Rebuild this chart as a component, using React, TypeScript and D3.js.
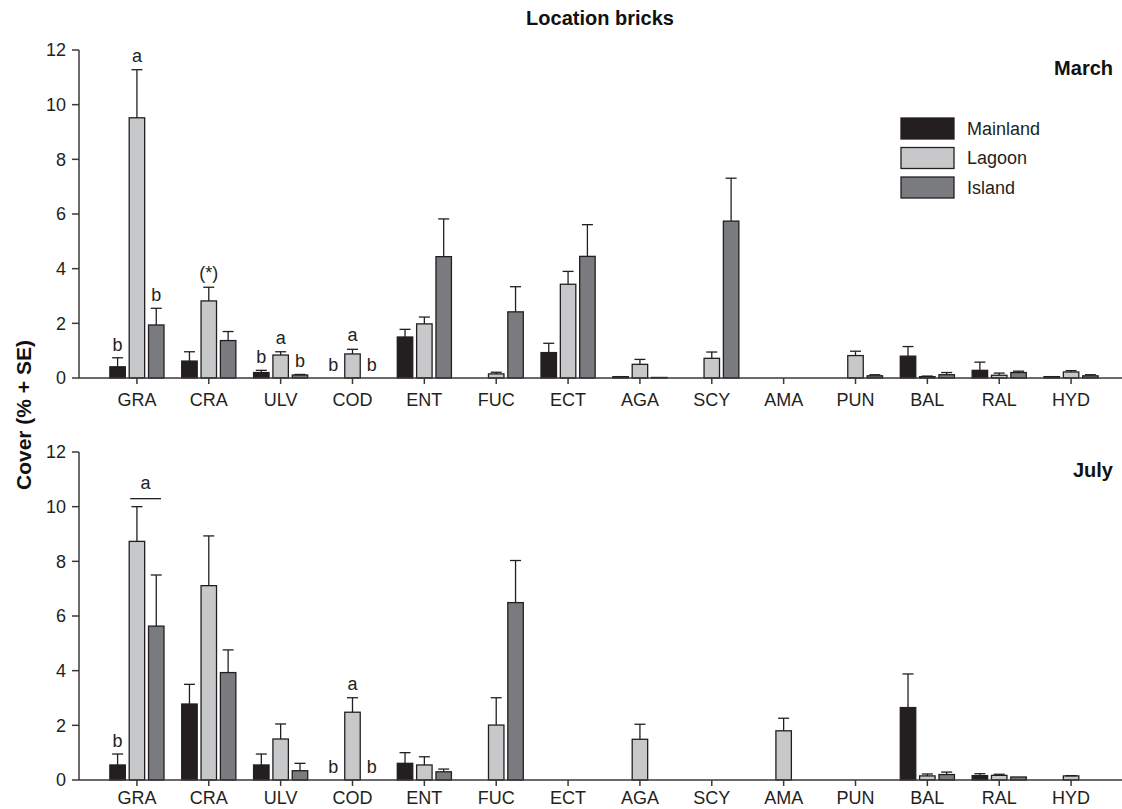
import { scaleBand, scaleLinear } from "d3";

// categories (algal groups) and the three locations
const categories = ["GRA", "CRA", "ULV", "COD", "ENT", "FUC", "ECT", "AGA", "SCY", "AMA", "PUN", "BAL", "RAL", "HYD"];
const locations = ["Mainland", "Lagoon", "Island"];
const yTicks = [0, 2, 4, 6, 8, 10, 12];

// March: mean cover and SE per location
const marchMainland = [0.41, 0.62, 0.2, 0, 1.5, 0, 0.93, 0.05, 0, 0, 0, 0.8, 0.28, 0.05];
const marchMainlandSE = [0.33, 0.34, 0.08, 0, 0.28, 0, 0.34, 0, 0, 0, 0, 0.35, 0.3, 0];
const marchLagoon = [9.52, 2.82, 0.84, 0.88, 1.98, 0.15, 3.43, 0.5, 0.72, 0, 0.82, 0.05, 0.1, 0.22];
const marchLagoonSE = [1.76, 0.5, 0.12, 0.17, 0.25, 0.06, 0.47, 0.18, 0.23, 0, 0.16, 0.02, 0.08, 0.05];
const marchIsland = [1.94, 1.37, 0.11, 0, 4.44, 2.42, 4.45, 0.02, 5.74, 0, 0.08, 0.12, 0.2, 0.08];
const marchIslandSE = [0.61, 0.33, 0.02, 0, 1.38, 0.92, 1.16, 0, 1.57, 0, 0.04, 0.08, 0.05, 0.04];

// July
const julyMainland = [0.55, 2.78, 0.55, 0, 0.61, 0, 0, 0, 0, 0, 0, 2.65, 0.16, 0];
const julyMainlandSE = [0.4, 0.72, 0.4, 0, 0.39, 0, 0, 0, 0, 0, 0, 1.23, 0.07, 0];
const julyLagoon = [8.73, 7.11, 1.5, 2.48, 0.55, 2.01, 0, 1.49, 0, 1.8, 0, 0.15, 0.17, 0.15];
const julyLagoonSE = [1.27, 1.82, 0.55, 0.53, 0.3, 1.0, 0, 0.55, 0, 0.46, 0, 0.07, 0.04, 0.01];
const julyIsland = [5.63, 3.93, 0.34, 0, 0.3, 6.49, 0, 0, 0, 0, 0, 0.2, 0.11, 0];
const julyIslandSE = [1.87, 0.83, 0.27, 0, 0.1, 1.54, 0, 0, 0, 0, 0, 0.09, 0, 0];

// significance letters: [category, location index, text]
const marchLetters: [string, number, string][] = [
  ["GRA", 0, "b"], ["GRA", 1, "a"], ["GRA", 2, "b"], ["CRA", 1, "(*)"],
  ["ULV", 0, "b"], ["ULV", 1, "a"], ["ULV", 2, "b"],
  ["COD", 0, "b"], ["COD", 1, "a"], ["COD", 2, "b"],
];
const julyLetters: [string, number, string][] = [
  ["GRA", 0, "b"], ["COD", 0, "b"], ["COD", 1, "a"], ["COD", 2, "b"],
];
// a letter shared by two bars, drawn over a line
const julyBrackets: [string, number, number, string][] = [["GRA", 1, 2, "a"]];

const colors = ["#231f20", "#c7c8ca", "#7a7b7f"];
const font = "'Liberation Sans', Arial, sans-serif";

const W = 1122;
const H = 809;
const axisX = 79;

const x = scaleBand().domain(categories).range([101, 1107]);
const sub = scaleBand().domain(locations).range([-29, 29]).paddingInner(0.2).paddingOuter(0.1);

const panels = [
  { name: "March", top: 50, bottom: 378, labelGap: 28, means: [marchMainland, marchLagoon, marchIsland], ses: [marchMainlandSE, marchLagoonSE, marchIslandSE], letters: marchLetters, brackets: [] as [string, number, number, string][] },
  { name: "July", top: 452, bottom: 780, labelGap: 24, means: [julyMainland, julyLagoon, julyIsland], ses: [julyMainlandSE, julyLagoonSE, julyIslandSE], letters: julyLetters, brackets: julyBrackets },
];

function Panel({ p }: { p: (typeof panels)[number] }) {
  const y = scaleLinear().domain([0, 12]).range([p.bottom, p.top]);
  const cx = (c: string) => (x(c) as number) + x.bandwidth() / 2;
  const bx = (c: string, s: number) => cx(c) + (sub(locations[s]) as number);
  const bw = sub.bandwidth();
  const capTop = (c: string, s: number) => {
    const i = categories.indexOf(c);
    return y(p.means[s][i] + p.ses[s][i]);
  };
  return (
    <g>
      {/* bars */}
      {p.means.map((vals, s) =>
        vals.map((v, i) =>
          v > 0 ? (
            <rect key={`b${s}-${i}`} x={bx(categories[i], s)} y={y(v)} width={bw} height={y(0) - y(v)}
              fill={colors[s]} stroke="#231f20" strokeWidth={1.3} />
          ) : null
        )
      )}
      {/* error bars */}
      {p.ses.map((vals, s) =>
        vals.map((se, i) => {
          if (!(se > 0) || !(p.means[s][i] > 0)) return null;
          const c = bx(categories[i], s) + bw / 2;
          const yt = y(p.means[s][i] + se);
          return (
            <g key={`e${s}-${i}`} stroke="#231f20" strokeWidth={1.3}>
              <line x1={c} x2={c} y1={y(p.means[s][i])} y2={yt} />
              <line x1={c - 5.5} x2={c + 5.5} y1={yt} y2={yt} />
            </g>
          );
        })
      )}
      {/* axes */}
      <line x1={axisX} x2={W} y1={y(0)} y2={y(0)} stroke="#3a3a3a" strokeWidth={1.5} />
      <line x1={axisX} x2={axisX} y1={y(12)} y2={y(0)} stroke="#3a3a3a" strokeWidth={1.5} />
      {yTicks.map((t) => (
        <g key={t}>
          <line x1={axisX - 7} x2={axisX} y1={y(t)} y2={y(t)} stroke="#3a3a3a" strokeWidth={1.5} />
          <text x={axisX - 13} y={y(t)} dy="0.36em" textAnchor="end" fontSize={18} fontFamily={font} fill="#231f20">{t}</text>
        </g>
      ))}
      {categories.map((c) => (
        <g key={c}>
          <line x1={cx(c)} x2={cx(c)} y1={y(0)} y2={y(0) + 6} stroke="#3a3a3a" strokeWidth={1.5} />
          <text x={cx(c)} y={y(0) + p.labelGap} textAnchor="middle" fontSize={18} fontFamily={font} fill="#231f20">{c}</text>
        </g>
      ))}
      {/* letters */}
      {p.letters.map(([c, s, t]) => (
        <text key={`l${c}${s}`} x={bx(c, s) + bw / 2} y={capTop(c, s) - (t === "b" ? 7 : 8)}
          textAnchor="middle" fontSize={18} fontFamily={font} fill="#231f20">{t}</text>
      ))}
      {p.brackets.map(([c, s1, s2, t]) => {
        const x1 = bx(c, s1) + 1;
        const x2 = bx(c, s2) + bw - 3;
        const yl = Math.min(capTop(c, s1), capTop(c, s2)) - 8;
        return (
          <g key={`k${c}`}>
            <line x1={x1} x2={x2} y1={yl} y2={yl} stroke="#231f20" strokeWidth={1.3} />
            <text x={(x1 + x2) / 2} y={yl - 10} textAnchor="middle" fontSize={18} fontFamily={font} fill="#231f20">{t}</text>
          </g>
        );
      })}
      <text x={1113} y={p.top + 25} textAnchor="end" fontSize={20} fontWeight="bold" fontFamily={font} fill="#111">{p.name}</text>
    </g>
  );
}

export default function App() {
  return (
    <div style={{ position: "absolute", left: 0, top: 0 }}>
      <svg width={W} height={H} style={{ display: "block", background: "#fff" }}>
        <text x={600} y={25} textAnchor="middle" fontSize={20} fontWeight="bold" fontFamily={font} fill="#111">Location bricks</text>
        <text transform="translate(31,415) rotate(-90)" textAnchor="middle" fontSize={21} fontWeight="bold" fontFamily={font} fill="#111">Cover (% + SE)</text>
        {panels.map((p) => (
          <Panel key={p.name} p={p} />
        ))}
        {/* legend */}
        {locations.map((l, i) => (
          <g key={l} transform={`translate(901,${118 + i * 29.5})`}>
            <rect width={53} height={21} fill={colors[i]} stroke="#231f20" strokeWidth={1.3} />
            <text x={66} y={10.5} dy="0.36em" fontSize={18} fontFamily={font} fill="#231f20">{l}</text>
          </g>
        ))}
      </svg>
    </div>
  );
}
